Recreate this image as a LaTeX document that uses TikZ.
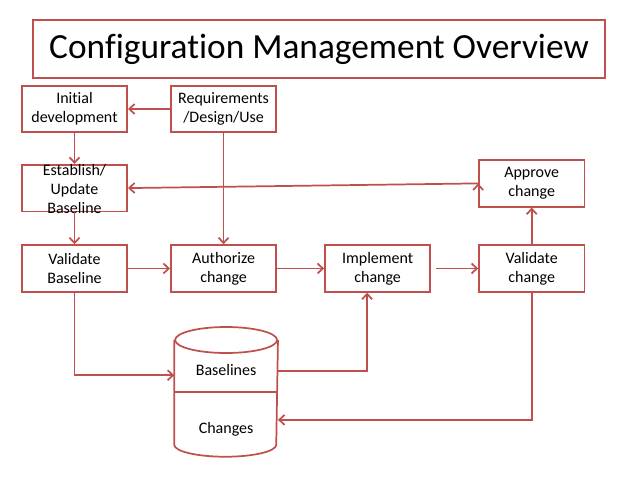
\documentclass[tikz,border=0pt]{standalone}
\usepackage{fontspec}
\setmainfont{Carlito}[Ligatures=NoCommon]
\usepackage{tikz}
\usetikzlibrary{arrows.meta,positioning}
\definecolor{cmred}{RGB}{192,80,77}

\begin{document}
\begin{tikzpicture}[>={Straight Barb[length=4pt,width=7.5pt]}, line width=1.3pt]
        \tikzset{block/.style= {draw=cmred, rectangle, align=center, minimum width=79pt, minimum height=35pt, inner sep=2pt, font=\fontsize{12}{14.25}\selectfont},
        tblock/.style={draw=cmred, rectangle, minimum width=429pt, minimum height=44pt, font=\fontsize{26.5}{30}\selectfont},
        label/.style={font=\fontsize{12}{14.25}\selectfont},
        link/.style={draw=cmred, ->},
        }
        \useasboundingbox (0,0) rectangle (478.5pt,-359.25pt);
        \node [tblock] (title) at (239.25pt,-36.75pt) {Configuration Management Overview};
        \node [block] (init) at (55.875pt,-81.75pt) {Initial\\development};
        \node [block, right =31.5pt of init] (req) {Requirements\\/Design/Use};
        \node [block, below =23pt of init] (estab) {\raisebox{-5.25pt}[0pt][0pt]{\begin{tabular}{@{}c@{}}Establish/\\Update\\Baseline\end{tabular}}};
        \node [block, below =24pt of estab] (valb) {Validate\\Baseline};
        \node [block, right =31.5pt of valb] (auth) {Authorize\\change};
        \node [block, right =35.25pt of auth] (impl) {Implement\\change};
        \node [block, right =35.25pt of impl] (valc) {Validate\\change};
        \node [block, above =27.5pt of valc] (appr) {Approve\\change};
        \node [minimum width=76.5pt, minimum height=96pt, inner sep=0pt, below =25.75pt of auth, xshift=1.9pt] (store) {};  %% Cylinder area
        \node [label] (base) at ([yshift=16.5pt]store.center) {Baselines};
        \node [label] (chg) at ([yshift=-28pt]store.center) {Changes};

%% cylinder
        \draw[cmred] ([yshift=-9.75pt]store.north) ellipse (38.25pt and 9.75pt);
        \draw[cmred] ([yshift=-9.75pt]store.north west) -- ([yshift=9pt]store.south west)
                    arc (180:360:38.25pt and 9pt) -- ([yshift=-9.75pt]store.north east);
        \draw[cmred] (store.west) -- (store.east);

%% paths
        \path[link] (req) edge (init)
                    (init) edge (estab)
                    (estab) edge (valb)
                    (req) edge (auth)
                    (valb) edge (auth)
                    (auth) edge (impl)
                    (impl) edge[shorten <=3.75pt] (valc)
                    (valc) edge (appr)
                    (appr.west) edge (estab.east)
                    ;
        \draw[link] (valb.south) |- ([yshift=12.5pt]store.west);
        \draw[link] ([yshift=15.5pt]store.east) -| ([xshift=-7.9pt]impl.south);
        \draw[link] (valc.south) |- ([yshift=-21pt]store.east);
    \end{tikzpicture}
\end{document}
